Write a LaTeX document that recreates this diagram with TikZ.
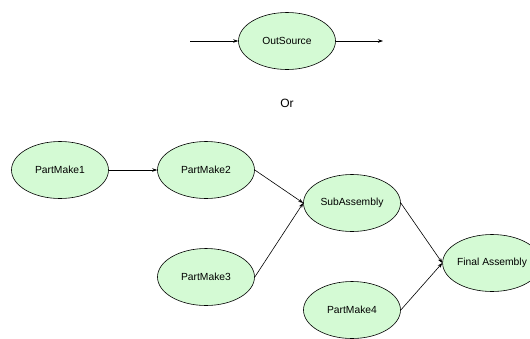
\documentclass[tikz,border=0pt]{standalone}
\usepackage{fontspec}
\setmainfont{Liberation Sans}
\usetikzlibrary{shapes.geometric, arrows.meta}
\definecolor{taskgreen}{RGB}{212,250,212}
\begin{document}
\begin{tikzpicture}[x=1pt, y=-1pt,
    task/.style={ellipse, draw, fill=taskgreen, line width=0.6pt,
      minimum width=97pt, minimum height=57pt, inner sep=0pt,
      font=\fontsize{10.3}{12}\selectfont},
    link/.style={->, line width=0.6pt},
    >={Stealth[length=5pt, width=3.5pt]}]
    \useasboundingbox (0, 0) rectangle (530, 338);

    % outsourcing option
    \coordinate (srcin) at (190, 41);
    \coordinate (srcout) at (383, 41);
    \node[task] (outsource) at (287, 41) {OutSource};
    \draw[link] (srcin) -- (outsource);
    \draw[link] (outsource) -- (srcout);

    \node[font=\fontsize{12}{14}\selectfont] (or) at (287, 103) {Or};

    % make and assemble in house
    \node[task] (pm1) at (60, 170) {PartMake1};
    \node[task] (pm2) at (206, 170) {PartMake2};
    \node[task] (pm3) at (206, 277) {PartMake3};
    \node[task] (sub) at (352, 203) {SubAssembly};
    \node[task] (pm4) at (352, 310) {PartMake4};
    \node[task] (final) at (492, 263) {Final Assembly};

    \draw[link] (pm1) -- (pm2);
    \draw[link] (pm2.east) -- (sub.west);
    \draw[link] (pm3.east) -- (sub.west);
    \draw[link] (sub.east) -- (final.west);
    \draw[link] (pm4.east) -- (final.west);
  \end{tikzpicture}
\end{document}
